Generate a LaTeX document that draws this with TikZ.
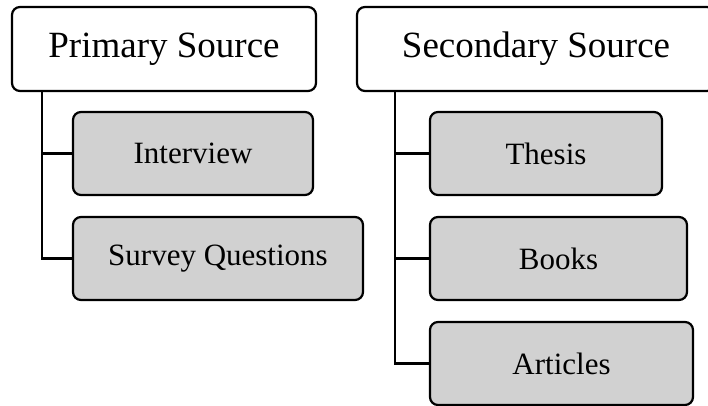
\documentclass[tikz,border=0pt]{standalone}
\usepackage{fontspec}
\setmainfont{Liberation Serif}
\begin{document}
\begin{tikzpicture}[x=1pt,y=-1pt,
  boxbase/.style={draw=black, line width=2.2pt, rounded corners=8pt,
    inner sep=0pt, outer sep=0pt, align=center},
  headbox/.style={boxbase, fill=white, font=\fontsize{37}{40}\selectfont},
  itembox/.style={boxbase, fill=black!18, font=\fontsize{31}{34}\selectfont},
  link/.style={draw=black, line width=2.2pt}]
\useasboundingbox (0,0) rectangle (708,406);
\clip (0,0) rectangle (708,406);

% Primary sources
\node[headbox, minimum width=304pt, minimum height=84pt] (prim) at (164,49) {Primary Source};
\node[itembox, minimum width=240pt, minimum height=83pt] (intv) at (193,153.5) {Interview};
\node[itembox, minimum width=290pt, minimum height=83pt] (surv) at (218,258.5) {Survey Questions};

% Secondary sources
\node[headbox, minimum width=358pt, minimum height=84pt] (sec) at (536,49) {Secondary Source};
\node[itembox, minimum width=232pt, minimum height=83pt] (thes) at (546,153.5) {Thesis};
\node[itembox, minimum width=257pt, minimum height=83pt] (book) at (558.5,258.5) {Books};
\node[itembox, minimum width=263pt, minimum height=83pt] (artc) at (561.5,363.5) {Articles};

% Tree trunks
\coordinate (ptrunk) at ([xshift=30pt]prim.south west);
\coordinate (strunk) at ([xshift=38pt]sec.south west);

\draw[link] (ptrunk) |- (surv.west);
\draw[link] (ptrunk |- intv.west) -- (intv.west);

\draw[link] (strunk) |- (artc.west);
\draw[link] (strunk |- thes.west) -- (thes.west);
\draw[link] (strunk |- book.west) -- (book.west);
\end{tikzpicture}
\end{document}
